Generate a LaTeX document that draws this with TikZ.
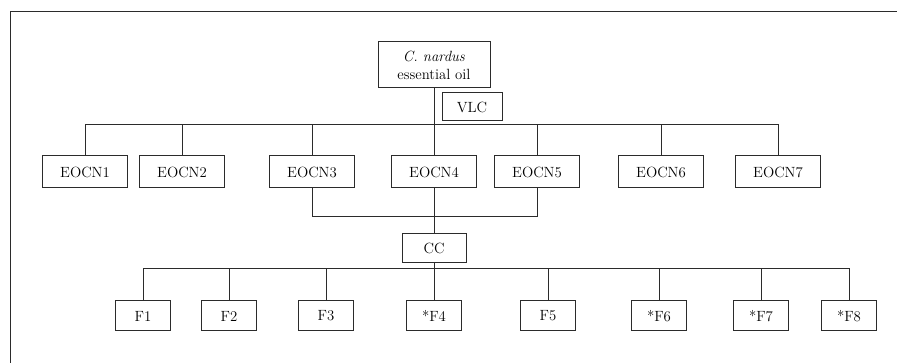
\documentclass[tikz,border=0pt]{standalone}
\usepackage{fontspec}
\usepackage{tikz}
\usepackage{xcolor}
\definecolor{ln}{HTML}{2b2b2b}

\begin{document}
\begin{tikzpicture}[x=1pt,y=-1pt]
          \tikzstyle{every node}=[font=\fontsize{14.8}{18}\selectfont]
          \tikzstyle{box}=[draw=ln,line width=1pt,inner sep=0pt,align=center]
          \tikzstyle{link}=[draw=ln,line width=1pt]
          \useasboundingbox (0,0) rectangle (897,363);
          \draw[link] (10,363) -- (10,12) -- (897,12);
          \node[box,minimum width=112pt,minimum height=46pt] (oil) at (434,65) {\textit{C. nardus}\\essential oil};
          \node[box,minimum width=60pt,minimum height=28pt] (vlc) at (472,107) {VLC};
          \coordinate (b1) at (434,125);
          \foreach \x [count=\i] in {85,182,312,434,537,661,778}
            \node[box,minimum width=85pt,minimum height=32pt] (E\i) at (\x,172) {EOCN\i};
          \foreach \i in {1,...,7}
            \draw[link] (E\i.north) |- (b1);
          \draw[link] (oil) -- (E4);
          \coordinate (b2) at (434,217);
          \draw[link] (E3.south) |- (b2);
          \draw[link] (E5.south) |- (b2);
          \node[box,minimum width=64pt,minimum height=29pt] (cc) at (434,248.5) {CC};
          \draw[link] (E4) -- (cc);
          \coordinate (b3) at (434,269);
          \foreach \x/\t [count=\i] in {143/F1,229/F2,326/F3,434/*F4,548/F5,659/*F6,761/*F7,849/*F8}
            \node[box,minimum width=55pt,minimum height=30pt] (F\i) at (\x,316) {\t};
          \foreach \i in {1,...,8}
            \draw[link] (F\i.north) |- (b3);
          \draw[link] (cc) -- (F4);
        \end{tikzpicture}
\end{document}
